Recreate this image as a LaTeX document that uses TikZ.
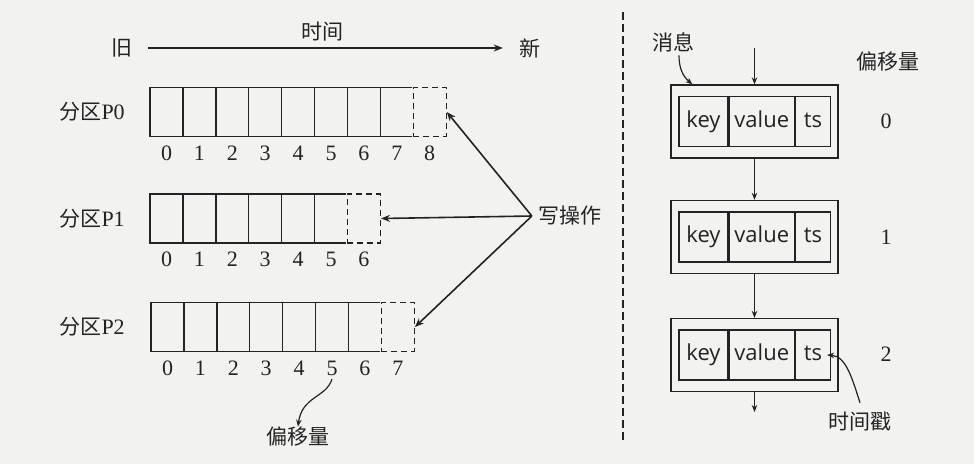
\documentclass[tikz,border=0pt]{standalone}
\usepackage{fontspec}
\setmainfont{Liberation Serif}
\newfontfamily\cjk{Noto Sans CJK SC}
\newfontfamily\fieldfont{Open Sans}
\usetikzlibrary{positioning,arrows.meta}
\definecolor{paper}{RGB}{242,242,240}
\definecolor{ink}{RGB}{35,35,35}

\begin{document}
\begin{tikzpicture}[
                x=1pt, y=1pt,
                every node/.style={inner sep=0pt, text=ink, font=\fontsize{22}{26}\selectfont},
                every path/.style={draw=ink, line width=1.3pt},
                cell/.style={draw, minimum width=32.9pt, minimum height=49pt},
                newcell/.style={cell, dash pattern=on 6pt off 4pt, fill=paper, preaction={draw=paper, solid, line width=2.6pt}},
                cjklabel/.style={font=\cjk\fontsize{21}{24}\selectfont},
                field/.style={draw, minimum height=50pt, text height=16pt, text depth=5pt, font=\fieldfont\fontsize{22}{26}\selectfont},
                msg/.style={draw, minimum width=167pt, minimum height=73pt},
                arr/.style={-{Stealth[length=9pt, width=7pt]}, line width=1.6pt},
                thinarr/.style={-{Stealth[length=7pt, width=5.5pt]}, line width=1.2pt}
            ]

            \fill[paper, draw=none] (0,0) rectangle (974,-464);

            % Time axis
            \node[cjklabel] (old) at (122,-48) {旧};
            \node[cjklabel] (new) at (530,-48) {新};
            \node[cjklabel] (time) at (322,-32) {时间};
            \draw[arr, shorten <=15pt, shorten >=16pt] (old) -- (new);

            % Partition P0
            \foreach \i in {0,...,7}
                \node[cell] (p0c\i) at (166.5+32.9*\i, -112) {};
            \node[newcell] (p0c8) at (166.5+32.9*8, -112) {};
            \foreach \i in {0,...,8}
                \node (p0l\i) at ([yshift=-16pt]p0c\i.south) {\i};
            \node[cjklabel, left=24pt of p0c0] (p0) {分区\rmfamily\fontsize{22}{26}\selectfont P0};

            % Partition P1
            \foreach \i in {0,...,5}
                \node[cell] (p1c\i) at (166.5+32.9*\i, -218.5) {};
            \node[newcell] (p1c6) at (166.5+32.9*6, -218.5) {};
            \foreach \i in {0,...,6}
                \node (p1l\i) at ([yshift=-16pt]p1c\i.south) {\i};
            \node[cjklabel, left=24pt of p1c0] (p1) {分区\rmfamily\fontsize{22}{26}\selectfont P1};

            % Partition P2
            \foreach \i in {0,...,6}
                \node[cell] (p2c\i) at (167.5+32.9*\i, -327) {};
            \node[newcell] (p2c7) at (167.5+32.9*7, -327) {};
            \foreach \i in {0,...,7}
                \node (p2l\i) at ([yshift=-16pt]p2c\i.south) {\i};
            \node[cjklabel, left=25pt of p2c0] (p2) {分区\rmfamily\fontsize{22}{26}\selectfont P2};

            % Offset label
            \node[cjklabel] (offlabel) at (298,-437) {偏移量};
            \draw[thinarr] ([yshift=-3pt]p2l5.south) .. controls (326,-398) and (302,-396) .. (offlabel.north);

            % Writes
            \node[cjklabel] (write) at (570,-216) {写操作};
            \draw[arr] ([xshift=-6pt]write.west) -- (p0c8.east);
            \draw[arr] ([xshift=-6pt]write.west) -- (p1c6.east);
            \draw[arr] ([xshift=-6pt]write.west) -- (p2c7.east);

            % Divider
            \draw[dash pattern=on 8pt off 4pt] (623,-12) -- (623,-442);

            % Messages
            \foreach \m/\y in {1/121.5, 2/237, 3/355} {
                \node[msg] (m\m) at (754.5,-\y) {};
                \node[field, minimum width=49pt, right=8pt of m\m.west] (m\m k) {key};
                \node[field, minimum width=65pt, right=0pt of m\m k] (m\m v) {value};
                \node[field, minimum width=35pt, right=0pt of m\m v] (m\m t) {ts};
            }
            \coordinate (in) at (754.5,-48);
            \coordinate (out) at (754.5,-412);
            \draw[thinarr] (in) -- (m1);
            \draw[thinarr] (m1) -- (m2);
            \draw[thinarr] (m2) -- (m3);
            \draw[thinarr] (m3) -- (out);

            \node[cjklabel] (news) at (673,-42) {消息};
            \draw[thinarr] ([xshift=6pt,yshift=-3pt]news.south) to[bend right=25] ([xshift=22pt]m1.north west);

            % Offsets
            \node[cjklabel] (offhead) at (888,-62) {偏移量};
            \node (o0) at (886,-121) {0};
            \node (o1) at (886,-237) {1};
            \node (o2) at (886,-354) {2};

            \node[cjklabel] (stamp) at (860,-422) {时间戳};
            \draw[thinarr] ([yshift=9pt]stamp.north) .. controls (852,-378) and (846,-356) .. ([xshift=14pt]m3t.center);

            \end{tikzpicture}
\end{document}
